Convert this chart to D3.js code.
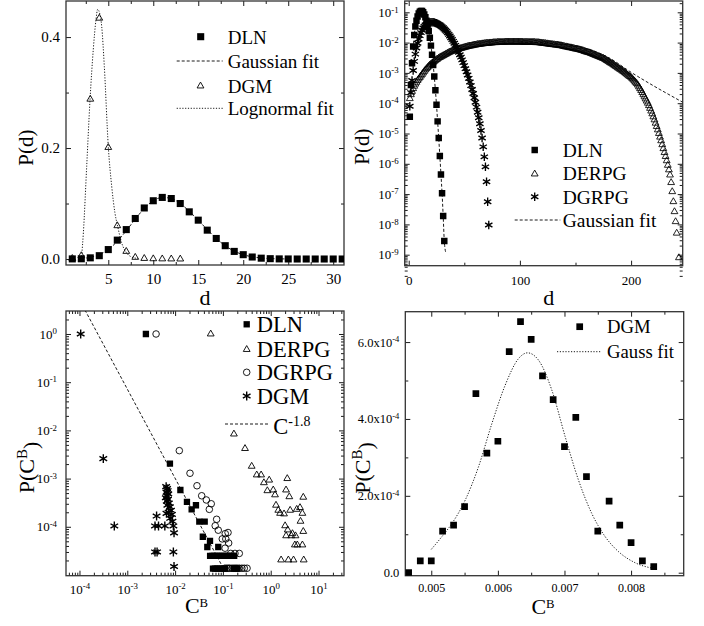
<!DOCTYPE html>
<html><head><meta charset="utf-8">
<script src="https://cdn.jsdelivr.net/npm/d3@7"></script>
<style>body{margin:0;background:#fff}svg{display:block}svg text{font-family:"Liberation Serif","DejaVu Serif",serif !important}</style>
</head><body><script>
// ---------------- DATA ----------------
// Panel 1 (top-left): P(d) linear
const p1D = [1,2,3,4,5,6,7,8,9,10,11,12,13,14,15,16,17,18,19,20,21,22,23,24,25,26,27,28,29,30,31];
const p1DLN = [0.0002,0.0004,0.0021,0.006,0.017,0.034,0.053,0.073,0.092,0.105,0.111,0.109,0.100,0.085,0.070,0.052,0.037,0.024,0.0137,0.0078,0.0036,0.0015,0.0006,0.0002,0.0001,0,0,0,0,0,0];
const p1DgmD = [1,2,3,4,5,6,7,8,9,10,11,12,13];
const p1DGM = [0.001,0.006,0.288,0.434,0.201,0.060,0.0137,0.003,0.001,0.0004,0.0002,0.0001,0];
const p1GaussD = [2,3,4,5,6,7,8,9,10,11,12,13,14,15,16,17,18,19,20,21,22,23,24,25];
const p1GaussP = [0.001,0.003,0.008,0.017,0.032,0.051,0.072,0.091,0.105,0.111,0.109,0.100,0.086,0.070,0.053,0.037,0.024,0.0142,0.0078,0.004,0.0019,0.0008,0.0003,0.0001];
const p1LognD = [2.04,2.23,2.6,2.97,3.33,3.63,3.82,4.08,4.27,4.56,5.0,5.38,5.74,6.04,6.49,7.04,7.6,8.3];
const p1LognP = [0.005,0.047,0.167,0.287,0.377,0.431,0.450,0.44,0.419,0.347,0.203,0.131,0.083,0.059,0.029,0.011,0.0036,0.001];
const p1XTicks = [5,10,15,20,25,30];
const p1YTicks = [0,0.2,0.4];

// Panel 2 (top-right): log10 P(d)
const p2DlnLog = [-4.45,-3.4,-2.68,-2.13,-1.75,-1.47,-1.28,-1.14,-1.04,-0.98,-0.955,-0.96,-1.0,-1.07,-1.16,-1.28,-1.44,-1.62,-1.84,-2.1,-2.4,-2.74,-3.12,-3.57,-4.05,-4.6,-5.15,-5.74,-6.35,-6.97,-7.72,-8.55];
const p2DgrpgLog = [-4.1,-3.65,-3.25,-2.92,-2.62,-2.38,-2.18,-2.02,-1.88,-1.77,
 -1.67,-1.59,-1.52,-1.47,-1.42,-1.39,-1.37,-1.35,-1.34,-1.33,
 -1.33,-1.33,-1.34,-1.35,-1.36,-1.38,-1.4,-1.42,-1.45,-1.48,
 -1.51,-1.55,-1.59,-1.63,-1.68,-1.73,-1.78,-1.84,-1.9,-1.96,
 -2.02,-2.09,-2.16,-2.24,-2.32,-2.4,-2.48,-2.57,-2.66,-2.76,
 -2.86,-2.96,-3.07,-3.18,-3.3,-3.42,-3.55,-3.68,-3.82,-3.97,
 -4.13,-4.3,-4.48,-4.68,-4.9,-5.15,-5.44,-5.77,-6.1,-6.59,
 -7.25,-8.02];
const p2DerpgLog = [-3.85,-3.72,-3.61,-3.52,-3.44,-3.37,-3.31,-3.25,-3.2,-3.15,
 -3.1,-3.05,-3.0,-2.95,-2.9,-2.86,-2.82,-2.78,-2.74,-2.71,
 -2.68,-2.65,-2.62,-2.59,-2.56,-2.54,-2.51,-2.49,-2.47,-2.45,
 -2.43,-2.41,-2.39,-2.37,-2.35,-2.33,-2.31,-2.3,-2.28,-2.27,
 -2.25,-2.24,-2.23,-2.22,-2.21,-2.2,-2.19,-2.18,-2.17,-2.16,
 -2.15,-2.14,-2.13,-2.12,-2.11,-2.11,-2.1,-2.09,-2.08,-2.08,
 -2.07,-2.06,-2.06,-2.05,-2.05,-2.04,-2.04,-2.03,-2.03,-2.02,
 -2.02,-2.02,-2.01,-2.01,-2.01,-2.0,-2.0,-2.0,-2.0,-1.99,
 -1.99,-1.99,-1.99,-1.99,-1.99,-1.99,-1.98,-1.98,-1.98,-1.98,
 -1.98,-1.98,-1.98,-1.98,-1.98,-1.98,-1.98,-1.98,-1.98,-1.98,
 -1.98,-1.98,-1.99,-1.99,-1.99,-1.99,-1.99,-1.99,-1.99,-1.99,
 -1.99,-1.99,-1.99,-2.0,-2.0,-2.0,-2.0,-2.01,-2.01,-2.02,
 -2.02,-2.03,-2.03,-2.04,-2.04,-2.05,-2.05,-2.06,-2.06,-2.07,
 -2.07,-2.08,-2.08,-2.08,-2.09,-2.1,-2.1,-2.11,-2.12,-2.13,
 -2.14,-2.14,-2.15,-2.16,-2.17,-2.17,-2.18,-2.19,-2.2,-2.21,
 -2.21,-2.22,-2.23,-2.24,-2.25,-2.26,-2.27,-2.29,-2.3,-2.31,
 -2.32,-2.33,-2.34,-2.36,-2.37,-2.39,-2.4,-2.42,-2.43,-2.45,
 -2.46,-2.48,-2.49,-2.51,-2.52,-2.54,-2.56,-2.59,-2.61,-2.63,
 -2.66,-2.68,-2.7,-2.73,-2.75,-2.78,-2.8,-2.83,-2.85,-2.88,
 -2.9,-2.93,-2.95,-2.98,-3.01,-3.04,-3.07,-3.1,-3.12,-3.15,
 -3.19,-3.23,-3.27,-3.31,-3.35,-3.4,-3.46,-3.52,-3.58,-3.65,
 -3.72,-3.79,-3.86,-3.93,-4.0,-4.08,-4.17,-4.26,-4.35,-4.45,
 -4.55,-4.66,-4.77,-4.88,-5.0,-5.12,-5.24,-5.37,-5.5,-5.63,
 -5.76,-5.9,-6.05,-6.2,-6.37,-6.62,-6.92,-7.25,-7.58,-7.91,
 -8.29];
const p2DerpgTail = [[243,-9.1]];
const p2DlnFit = [[4,-2.2],[5,-1.76],[6,-1.47],[7,-1.28],[8,-1.14],[9,-1.04],[10,-0.98],[11,-0.955],[12,-0.96],[13,-1.0],[14,-1.07],[15,-1.16],[16,-1.28],[17,-1.44],[18,-1.62],[19,-1.84],[20,-2.1],[21,-2.4],[22,-2.74],[23,-3.12],[24,-3.57],[25,-4.05],[26,-4.6],[27,-5.15],[28,-5.74],[29,-6.35],[30,-6.97],[31,-7.72],[32,-8.55],[33.5,-8.95]];
const p2DerpgFit = [[100,-1.98],[130,-2.03],[160,-2.2],[180,-2.5],[200,-2.98],[246,-3.96]];
const p2XTicks = [0,100,200];
const p2XMinor = [50,150];

// Panel 3 (bottom-left): [C^B, P(C^B)]
const p3DLN = [[0.00245,1],[0.0078,2.04e-3],[0.0129,5.8e-4],[0.0177,3.3e-4],[0.0222,2.3e-4],[0.0273,2.8e-4],[0.0321,1.28e-4],[0.0416,1.28e-4],[0.038,6.2e-5],[0.0537,5.1e-5],[0.0472,3.8e-5],[0.08,3.8e-5],
 [0.054,2.5e-5],[0.06,2.5e-5],[0.066,2.5e-5],[0.073,2.5e-5],[0.08,2.5e-5],[0.088,2.5e-5],[0.097,2.5e-5],[0.107,2.5e-5],[0.118,2.5e-5],[0.13,2.5e-5],[0.143,2.5e-5],[0.157,2.5e-5],[0.172,2.5e-5],
 [0.062,1.35e-5],[0.068,1.35e-5],[0.075,1.35e-5],[0.082,1.35e-5],[0.09,1.35e-5],[0.1,1.35e-5],[0.11,1.35e-5],[0.17,1.35e-5],[0.185,1.35e-5],[0.2,1.35e-5]];
const p3DERPG = [[0.0556,1],[0.17,8.4e-3],[0.29,4.2e-3],[0.40,1.8e-3],[0.51,1.19e-3],[0.63,1.19e-3],[0.72,8.2e-4],[0.93,9.3e-4],[0.85,5.6e-4],[1.13,5.8e-4],[1.23,4.6e-4],[1.29,2.8e-4],[1.44,2.2e-4],[1.57,1.9e-4],[1.9,1.85e-4],[2.22,1e-3],[2.09,5.8e-4],[2.45,4.2e-4],[2.55,2.2e-4],[3.5,2.3e-4],[4.1,2.5e-4],[4.8,4.1e-4],[4.6,1.9e-4],[4.2,1.3e-4],[2.0,1.05e-4],[2.27,8.6e-5],[2.85,7.2e-5],[2.1,6.5e-5],[2.7,6.5e-5],[3.3,6.5e-5],[4.8,8e-5],[3.2,4.2e-5],[3.6,4.2e-5],[4.6,4.2e-5],[1.65,2.05e-5],[2.34,2.05e-5],[3.0,2.05e-5],[4.9,2.05e-5]];
const p3DGRPG = [[0.004,1],[0.01225,3.8e-3],[0.0205,1.29e-3],[0.0287,7.1e-4],[0.036,4.4e-4],[0.045,3.6e-4],[0.057,3e-4],[0.052,2.3e-4],[0.074,1.43e-4],[0.069,1.05e-4],[0.08,8.5e-5],[0.097,5.6e-5],[0.112,7.2e-5],[0.128,7.6e-5],[0.115,5.6e-5],[0.132,4.6e-5],[0.111,3.6e-5],[0.146,2.8e-5],[0.179,2.8e-5],[0.22,2.8e-5],
 [0.11,1.38e-5],[0.12,1.38e-5],[0.13,1.38e-5],[0.14,1.38e-5],[0.155,1.38e-5],[0.17,1.38e-5],[0.185,1.38e-5],[0.2,1.38e-5],[0.22,1.38e-5],[0.25,1.38e-5],[0.28,1.38e-5],[0.32,1.38e-5]];
const p3DGM = [[1.06e-4,1],[3.15e-4,2.6e-3],[5.35e-4,1.04e-4],
 [0.0038,3e-5],[0.0042,3e-5],[0.0092,3e-5],[0.0038,1.04e-4],[0.0045,1.04e-4],[0.0061,1.04e-4],[0.0092,1.04e-4],[0.0041,1.67e-4],[0.0095,7.5e-5],[0.0095,1.5e-5],
 [0.0065,6.8e-4],[0.0068,6.2e-4],[0.007,5.6e-4],[0.0066,5.2e-4],[0.0072,4.8e-4],[0.0068,4.4e-4],[0.0064,4e-4],[0.0071,3.7e-4],[0.0067,3.4e-4],[0.0074,3.1e-4],[0.0069,2.8e-4],[0.0078,2.6e-4],[0.0082,2.2e-4],[0.0073,2e-4],[0.0086,1.8e-4],[0.0079,1.5e-4],[0.0088,1.3e-4],[0.0066,1.9e-4]];
const p3PowerLaw = [[1.3e-4,3.15],[0.102,1.38e-5]];
const p3XTicks = [1e-4,1e-3,1e-2,1e-1,1,10];
const p3YTicks = [1,1e-1,1e-2,1e-3,1e-4];

// Panel 4 (bottom-right)
const p4C = [0.00466,0.004835,0.005,0.00517,0.005335,0.0055,0.00567,0.005835,0.006,0.00617,0.00634,0.0065,0.00667,0.00683,0.007,0.00717,0.00733,0.0075,0.00767,0.00783,0.008,0.00817,0.00834];
const p4P = [0,3.1e-5,3.1e-5,1.08e-4,1.24e-4,1.72e-4,4.66e-4,3.11e-4,3.42e-4,5.75e-4,6.53e-4,6.07e-4,5.12e-4,4.5e-4,3.28e-4,4.04e-4,2.5e-4,1.08e-4,1.86e-4,1.24e-4,7.8e-5,3.1e-5,1.56e-5];
const p4FitC = [0.005,0.00516,0.00531,0.00551,0.00571,0.00591,0.00611,0.00631,0.006445,0.00661,0.00681,0.00701,0.00721,0.00741,0.00761,0.00781,0.00806,0.008335];
const p4FitP = [6.07e-5,9.4e-5,1.28e-4,1.89e-4,2.76e-4,3.88e-4,4.88e-4,5.57e-4,5.72e-4,5.53e-4,4.75e-4,3.54e-4,2.41e-4,1.54e-4,9.4e-5,5.5e-5,2.6e-5,1.1e-5];
const p4XTicks = [0.005,0.006,0.007,0.008];
const p4XMinor = [0.0055,0.0065,0.0075,0.0085];
const p4YTicks = [0,2e-4,4e-4,6e-4];
const p4YMinor = [1e-4,3e-4,5e-4];

// ---------------- DRAWING ----------------
const FONT = '"Liberation Serif","DejaVu Serif",serif';
const svg = d3.select("body").append("svg").attr("width",704).attr("height",626)
  .style("font-family",FONT);

const SYM = {
  sq: d3.symbolSquare, tri: d3.symbolTriangle, cir: d3.symbolCircle, star: d3.symbolAsterisk
};
function marker(g, type, x, y, size, sw){
  const p = g.append("path").attr("d", d3.symbol().type(SYM[type]).size(size)())
    .attr("transform",`translate(${x},${y})`);
  if(type==="sq") p.attr("fill","#000");
  else p.attr("fill","none").attr("stroke","#000").attr("stroke-width",sw||0.9);
  return p;
}
function logMinor(lo, hi){
  const out=[];
  for(let e=lo;e<=hi;e++) for(let k=2;k<=9;k++) out.push(k*Math.pow(10,e));
  return out;
}
function styleAxis(sel, fs){
  sel.attr("font-family",null).attr("font-size",fs);
  sel.select(".domain").remove();
  sel.selectAll(".tick line").attr("stroke","#000").attr("stroke-width",0.9);
  sel.selectAll(".tick text").attr("fill","#000");
}
function supLabels(sel){
  sel.selectAll(".tick text").each(function(d){
    const e = Math.round(Math.log10(d));
    const t = d3.select(this).text(null);
    t.append("tspan").text("10");
    t.append("tspan").attr("dy","-0.5em").attr("font-size","0.68em").text(e<0?"-"+(-e):String(e));
  });
}
function axes(g, b, xs, ys, o){
  const mk=(gen,vals,size,fmt,pad)=>gen.tickValues(vals).tickSize(size).tickPadding(pad||3).tickFormat(fmt==null?"":fmt);
  const bx = g.append("g").attr("transform",`translate(0,${b.y1})`).call(mk(d3.axisBottom(xs),o.xMaj,-5,o.xFmt,o.xPad)).call(styleAxis,o.xfs||o.fs);
  if(o.xSup) supLabels(bx);
  if(o.xMin) g.append("g").attr("transform",`translate(0,${b.y1})`).call(mk(d3.axisBottom(xs),o.xMin,-3)).call(styleAxis,o.fs);
  g.append("g").attr("transform",`translate(0,${b.y0})`).call(mk(d3.axisTop(xs),o.xMaj,-5)).call(styleAxis,o.fs);
  if(o.xMin) g.append("g").attr("transform",`translate(0,${b.y0})`).call(mk(d3.axisTop(xs),o.xMin,-3)).call(styleAxis,o.fs);
  const ly = g.append("g").attr("transform",`translate(${b.x0},0)`).call(mk(d3.axisLeft(ys),o.yMaj,-5,o.yFmt,o.yPad)).call(styleAxis,o.fs);
  if(o.ySup) supLabels(ly);
  if(o.yPost) o.yPost(ly);
  if(o.yMin) g.append("g").attr("transform",`translate(${b.x0},0)`).call(mk(d3.axisLeft(ys),o.yMin,-3)).call(styleAxis,o.fs);
  g.append("g").attr("transform",`translate(${b.x1},0)`).call(mk(d3.axisRight(ys),o.yMaj,-5)).call(styleAxis,o.fs);
  if(o.yMin) g.append("g").attr("transform",`translate(${b.x1},0)`).call(mk(d3.axisRight(ys),o.yMin,-3)).call(styleAxis,o.fs);
  g.append("rect").attr("x",b.x0).attr("y",b.y0).attr("width",b.x1-b.x0).attr("height",b.y1-b.y0)
    .attr("fill","none").attr("stroke","#333").attr("stroke-width",1.3);
}
let clipN=0;
function clipGroup(b){
  const id="clip"+(clipN++);
  svg.append("clipPath").attr("id",id).append("rect").attr("x",b.x0).attr("y",b.y0).attr("width",b.x1-b.x0).attr("height",b.y1-b.y0);
  return svg.append("g").attr("clip-path",`url(#${id})`);
}
function txt(x,y,s,fs,anchor){
  return svg.append("text").attr("x",x).attr("y",y).attr("font-size",fs).attr("text-anchor",anchor||"start").attr("dy","0.35em").text(s);
}
function vtitle(x,y,fs,main,sup){
  const t = svg.append("text").attr("transform",`translate(${x},${y}) rotate(-90)`).attr("text-anchor","middle")
    .attr("dy","0.35em").attr("font-size",fs);
  if(sup){ t.append("tspan").text(main); t.append("tspan").attr("dy","-0.5em").attr("font-size","0.68em").text(sup);
    t.append("tspan").attr("dy","0.5em").text(")"); }
  else t.text(main);
}

// ===== Panel 1 =====
{
  const b={x0:66,x1:344,y0:1,y1:265};
  const x=d3.scaleLinear().domain([0.3,31.2]).range([b.x0,b.x1]);
  const y=d3.scaleLinear().domain([-0.0108,0.465]).range([b.y1,b.y0]);
  axes(svg,b,x,y,{fs:15,xMaj:p1XTicks,xMin:[2.5,7.5,12.5,17.5,22.5,27.5],xFmt:d3.format("d"),xPad:8,
    yMaj:p1YTicks,yMin:[0.1,0.3],yFmt:d3.format(".1f"),yPad:6});
  const g=clipGroup(b);
  g.append("path").datum(p1LognD.map((d,i)=>[d,p1LognP[i]])).attr("fill","none").attr("stroke","#000")
    .attr("stroke-width",0.9).attr("stroke-dasharray","1.2,1.6")
    .attr("d",d3.line().x(d=>x(d[0])).y(d=>y(d[1])).curve(d3.curveMonotoneX));
  g.append("path").datum(p1GaussD.map((d,i)=>[d,p1GaussP[i]])).attr("fill","none").attr("stroke","#000")
    .attr("stroke-width",0.9).attr("stroke-dasharray","3,2")
    .attr("d",d3.line().x(d=>x(d[0])).y(d=>y(d[1])).curve(d3.curveMonotoneX));
  p1D.forEach((d,i)=>marker(g,"sq",x(d),y(p1DLN[i]),50));
  p1DgmD.forEach((d,i)=>marker(g,"tri",x(d),y(p1DGM[i]),20,0.9));
  marker(svg,"sq",200.7,36.7,50);
  txt(227.7,37,"DLN",19);
  svg.append("line").attr("x1",176.7).attr("x2",222.7).attr("y1",61).attr("y2",61).attr("stroke","#000").attr("stroke-width",0.9).attr("stroke-dasharray","3,2");
  txt(227.7,61,"Gaussian fit",19);
  marker(svg,"tri",200.5,86,20,0.9);
  txt(227.7,86,"DGM",19);
  svg.append("line").attr("x1",176.7).attr("x2",222.7).attr("y1",108.3).attr("y2",108.3).attr("stroke","#000").attr("stroke-width",0.9).attr("stroke-dasharray","1.2,1.6");
  txt(227.7,108.5,"Lognormal fit",19);
  vtitle(25.5,147.7,21,"P(d)");
  svg.append("text").attr("x",205).attr("y",305).attr("font-size",22).attr("text-anchor","middle").text("d");
}

// ===== Panel 2 =====
{
  const b={x0:404.7,x1:682.7,y0:1,y1:265.7};
  const x=d3.scaleLinear().domain([-3.6,246.4]).range([b.x0,b.x1]);
  const y=d3.scaleLog().domain([Math.pow(10,-9.363),Math.pow(10,-0.627)]).range([b.y1,b.y0]);
  axes(svg,b,x,y,{fs:13,xMaj:p2XTicks,xMin:p2XMinor,xFmt:d3.format("d"),xPad:10,
    yMaj:[1e-1,1e-2,1e-3,1e-4,1e-5,1e-6,1e-7,1e-8,1e-9],yMin:logMinor(-10,-1),yPad:6,ySup:true});
  const g=clipGroup(b);
  const P=v=>y(Math.pow(10,v));
  p2DerpgLog.forEach((v,i)=>marker(g,"tri",x(i+1),P(v),20,0.85));
  p2DerpgTail.forEach(d=>marker(g,"tri",x(d[0]),P(d[1]),20,0.85));
  p2DgrpgLog.forEach((v,i)=>marker(g,"star",x(i+1),P(v),50,1.35));
  p2DlnLog.forEach((v,i)=>marker(g,"sq",x(i+1),P(v),42));
  const ln=d3.line().x(d=>x(d[0])).y(d=>P(d[1])).curve(d3.curveMonotoneX);
  g.append("path").datum(p2DlnFit).attr("fill","none").attr("stroke","#000").attr("stroke-width",0.9).attr("stroke-dasharray","3,2").attr("d",ln);
  g.append("path").datum(p2DerpgFit).attr("fill","none").attr("stroke","#000").attr("stroke-width",0.9).attr("stroke-dasharray","3,2").attr("d",ln);
  marker(svg,"sq",534.7,150,42);
  txt(562.7,150,"DLN",19.5);
  marker(svg,"tri",534.7,174,20,0.9);
  txt(562.7,173.3,"DERPG",19.5);
  marker(svg,"star",534.7,196.7,50,1.35);
  txt(562.7,196.7,"DGRPG",19.5);
  svg.append("line").attr("x1",514.7).attr("x2",560.3).attr("y1",220).attr("y2",220).attr("stroke","#000").attr("stroke-width",0.9).attr("stroke-dasharray","3,2");
  txt(562.7,220,"Gaussian fit",19.5);
  vtitle(362,146.7,21,"P(d)");
  svg.append("text").attr("x",548.7).attr("y",305).attr("font-size",22).attr("text-anchor","middle").text("d");
}

// ===== Panel 3 =====
{
  const b={x0:66,x1:344,y0:311,y1:575.7};
  const x=d3.scaleLog().domain([Math.pow(10,-4.282),Math.pow(10,1.533)]).range([b.x0,b.x1]);
  const y=d3.scaleLog().domain([Math.pow(10,-5.015),Math.pow(10,0.477)]).range([b.y1,b.y0]);
  axes(svg,b,x,y,{fs:13,xMaj:p3XTicks,xMin:logMinor(-5,1).filter(v=>v>x.domain()[0]&&v<x.domain()[1]),xPad:9,xSup:true,
    yMaj:p3YTicks,yMin:logMinor(-6,0).filter(v=>v>y.domain()[0]&&v<y.domain()[1]),yPad:9,ySup:true});
  const g=clipGroup(b);
  g.append("path").datum(p3PowerLaw).attr("fill","none").attr("stroke","#000").attr("stroke-width",0.9).attr("stroke-dasharray","3,2")
    .attr("d",d3.line().x(d=>x(d[0])).y(d=>y(d[1])));
  p3DGM.forEach(d=>marker(g,"star",x(d[0]),y(d[1]),55,1.4));
  p3DERPG.forEach(d=>marker(g,"tri",x(d[0]),y(d[1]),20,0.9));
  p3DLN.forEach(d=>marker(g,"sq",x(d[0]),y(d[1]),40));
  p3DGRPG.forEach(d=>marker(g,"cir",x(d[0]),y(d[1]),34,0.9));
  marker(svg,"sq",246.7,324.3,40);
  txt(256.7,324.3,"DLN",22.5);
  marker(svg,"tri",246.7,349.5,20,0.9);
  txt(256.7,349,"DERPG",22.5);
  marker(svg,"cir",246.7,372.3,34,0.9);
  txt(256.7,372.3,"DGRPG",22.5);
  marker(svg,"star",246.7,396,55,1.4);
  txt(256.7,396,"DGM",22.5);
  svg.append("line").attr("x1",225).attr("x2",268.3).attr("y1",424).attr("y2",424).attr("stroke","#000").attr("stroke-width",0.9).attr("stroke-dasharray","3,2");
  const t=txt(273.3,426,"",22.5);
  t.append("tspan").text("C");
  t.append("tspan").attr("dy","-0.55em").attr("font-size","0.62em").text("-1.8");
  vtitle(26.5,467.5,22,"P(C","B");
  const xt=svg.append("text").attr("x",196.5).attr("y",613).attr("font-size",22).attr("text-anchor","middle");
  xt.append("tspan").text("C"); xt.append("tspan").attr("dy","-0.45em").attr("font-size","0.58em").text("B");
}

// ===== Panel 4 =====
{
  const b={x0:405.3,x1:683.7,y0:311.7,y1:575.7};
  const x=d3.scaleLinear().domain([0.00461,0.00879]).range([b.x0,b.x1]);
  const y=d3.scaleLinear().domain([-7.8e-6,6.79e-4]).range([b.y1,b.y0]);
  axes(svg,b,x,y,{fs:12.5,xfs:12,xMaj:p4XTicks,xMin:p4XMinor,xFmt:d3.format(".3f"),xPad:8,
    yMaj:p4YTicks,yMin:p4YMinor,yPad:6,yFmt:d=>"",
    yPost:sel=>sel.selectAll(".tick text").each(function(d){
      const t=d3.select(this);
      if(d===0){t.text("0.0");return;}
      t.append("tspan").text((d/1e-4).toFixed(1)+"x10");
      t.append("tspan").attr("dy","-0.5em").attr("font-size","0.68em").text("-4");
    })});
  const g=clipGroup(b);
  g.append("path").datum(p4FitC.map((c,i)=>[c,p4FitP[i]])).attr("fill","none").attr("stroke","#000")
    .attr("stroke-width",0.9).attr("stroke-dasharray","1.2,1.6")
    .attr("d",d3.line().x(d=>x(d[0])).y(d=>y(d[1])).curve(d3.curveMonotoneX));
  p4C.forEach((c,i)=>marker(g,"sq",x(c),y(p4P[i]),45));
  marker(svg,"sq",579.7,326.7,45);
  txt(607,326.7,"DGM",18.7);
  svg.append("line").attr("x1",557).attr("x2",600.3).attr("y1",351.7).attr("y2",351.7).attr("stroke","#000").attr("stroke-width",0.9).attr("stroke-dasharray","1.2,1.6");
  txt(607,351.7,"Gauss fit",18.7);
  vtitle(362,468,22,"P(C","B");
  const xt=svg.append("text").attr("x",543).attr("y",614).attr("font-size",22).attr("text-anchor","middle");
  xt.append("tspan").text("C"); xt.append("tspan").attr("dy","-0.45em").attr("font-size","0.58em").text("B");
}
</script></body></html>
